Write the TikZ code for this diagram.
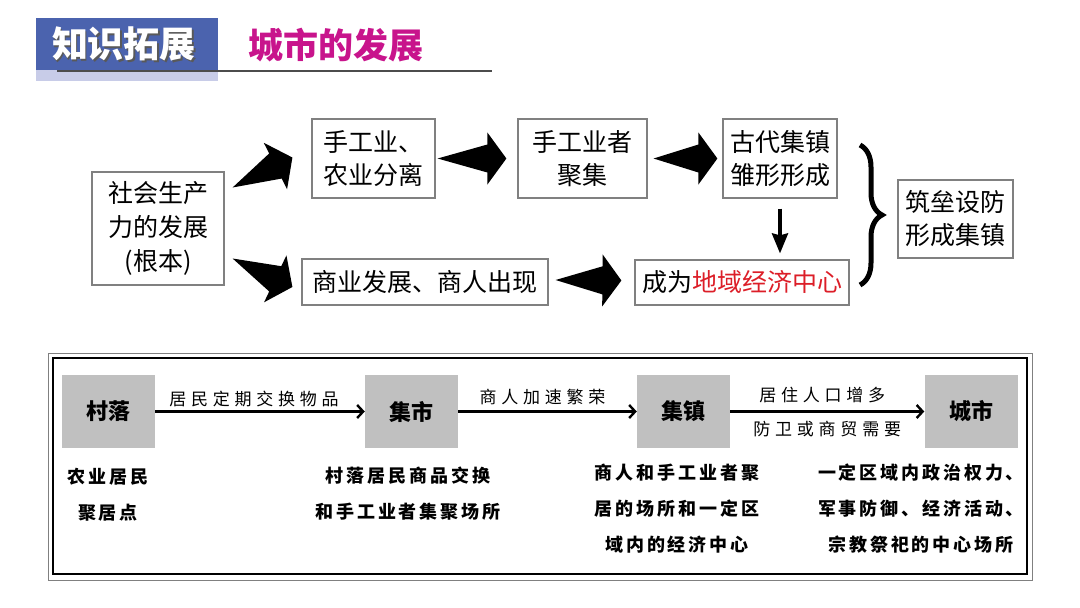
\documentclass[tikz,border=0pt]{standalone}
\usepackage{fontspec}
\setmainfont{Noto Sans CJK SC}
\newfontfamily\gapfont[LetterSpace=16]{Noto Sans CJK SC}
\newfontfamily\wideGapfont[LetterSpace=28]{Noto Sans CJK SC}
\usetikzlibrary{arrows.meta,calc,decorations.pathreplacing}
\definecolor{headBlue}{RGB}{75,99,174}
\definecolor{headStrip}{RGB}{200,204,232}
\definecolor{titleMagenta}{RGB}{200,20,140}
\definecolor{boxGray}{RGB}{192,192,192}
\definecolor{frameGray}{RGB}{128,128,128}
\definecolor{econRed}{RGB}{220,30,40}

\begin{document}
\begin{tikzpicture}[
  x=1pt,
  y=-1pt,
  flow box/.style={
    draw=frameGray,
    line width=1.2pt,
    align=center,
    inner sep=0pt,
    font=\fontsize{25}{33}\selectfont,
  },
  big arrow/.style={
    fill=black,
    to path={
      (\tikztostart)
      -- ($(\tikztotarget)!19pt!(\tikztostart)!14pt!90:(\tikztostart)$)
      -- ($(\tikztotarget)!19pt!(\tikztostart)!26pt!90:(\tikztostart)$)
      -- (\tikztotarget)
      -- ($(\tikztotarget)!19pt!(\tikztostart)!26pt!-90:(\tikztostart)$)
      -- ($(\tikztotarget)!19pt!(\tikztostart)!14pt!-90:(\tikztostart)$)
      -- cycle
    },
  },
  stage box/.style={
    fill=boxGray,
    minimum width=93pt,
    minimum height=73pt,
    font=\fontsize{22}{22}\selectfont\bfseries,
  },
  stage arrow/.style={
    line width=2.4pt,
    -{Straight Barb[length=6pt,width=13pt]},
  },
  stage label/.style={
    font=\wideGapfont\fontsize{17}{17}\selectfont,
  },
  stage note/.style={
    align=center,
    font=\gapfont\fontsize{18}{36}\selectfont\bfseries,
  },
]
\useasboundingbox (0,0) rectangle (1080,608);
% heading
\fill[headBlue] (36,18) rectangle (218,70);
\fill[headStrip] (36,70) rectangle (218,81);
\draw[line width=1.5pt,black!70] (57,71) -- (492,71);
\node[font=\fontsize{36}{36}\selectfont\bfseries,text=black!65] (headShadow) at (125.5,45.5) {知识拓展};
\node[font=\fontsize{36}{36}\selectfont\bfseries,text=white] (head) at (124,44) {知识拓展};
\node[font=\fontsize{35}{35}\selectfont\bfseries,text=titleMagenta] (title) at (336,45) {城市的发展};
% upper flow
\node[flow box,minimum width=132pt,minimum height=113pt,font=\fontsize{25}{34}\selectfont] (prod) at (158,228.5) {社会生产\\力的发展\\(根本)};
\node[flow box,minimum width=123pt,minimum height=79pt] (sep) at (373.5,158.5) {手工业、\\农业分离};
\node[flow box,minimum width=129pt,minimum height=79pt] (art) at (582.5,158.5) {手工业者\\聚集};
\node[flow box,minimum width=114pt,minimum height=79pt] (anc) at (780,158.5) {古代集镇\\雏形形成};
\node[flow box,minimum width=246pt,minimum height=46pt] (com) at (425,282) {商业发展、商人出现};
\node[flow box,minimum width=214pt,minimum height=45pt] (cen) at (742,282.5) {成为\textcolor{econRed}{地域经济中心}};
\node[flow box,minimum width=115pt,minimum height=78pt] (fort) at (955.5,219) {筑垒设防\\形成集镇};
\path[big arrow] ($(prod.east)+(8,-41)$) to ($(sep.west)+(-19,-1)$);
\path[big arrow] ($(prod.east)+(8,30)$) to ($(com.west)+(-9,5)$);
\path[big arrow] ($(sep.east)+(2,0)$) to ($(art.west)+(-11,0)$);
\path[big arrow] ($(art.east)+(6,0)$) to ($(anc.west)+(-5,0)$);
\path[big arrow] ($(com.east)+(7,-2)$) to ($(cen.west)+(-13,-2)$);
\draw[line width=3.5pt,-{Stealth[length=20pt,width=16pt,inset=2pt]},shorten <=10pt,shorten >=6pt]
  (anc.south) -- (anc.south |- cen.north);
\draw[line width=5pt,decorate,decoration={brace,amplitude=22pt}] (860,145) -- (860,285);
% lower frame
\draw[frameGray,line width=1pt] (48,353) rectangle (1032,580);
\draw[black,line width=2pt] (53,358) rectangle (1027,574);
\node[stage box] (vil) at (108.5,411.5) {村落};
\node[stage box] (mkt) at (411.5,411.5) {集市};
\node[stage box] (twn) at (683.5,411.5) {集镇};
\node[stage box] (cty) at (971,411.5) {城市};
\draw[stage arrow] (vil) -- node[stage label,above,xshift=-6pt] {居民定期交换物品} (mkt);
\draw[stage arrow] (mkt) -- node[stage label,above,xshift=-5pt,yshift=2pt] {商人加速繁荣} (twn);
\draw[stage arrow] (twn) -- node[stage label,above,xshift=-5pt,yshift=4pt] {居住人口增多}
  node[stage label,below=5pt] {防卫或商贸需要} (cty);
\node[stage note] (vilNote) at (108,495) {农业居民\\聚居点};
\node[stage note] (mktNote) at (408,494) {村落居民商品交换\\和手工业者集聚场所};
\node[stage note] (twnNote) at (677,509) {商人和手工业者聚\\居的场所和一定区\\域内的经济中心};
\node[stage note] (ctyNote) at (921,509) {一定区域内政治权力、\\军事防御、经济活动、\\宗教祭祀的中心场所};
\end{tikzpicture}
\end{document}
